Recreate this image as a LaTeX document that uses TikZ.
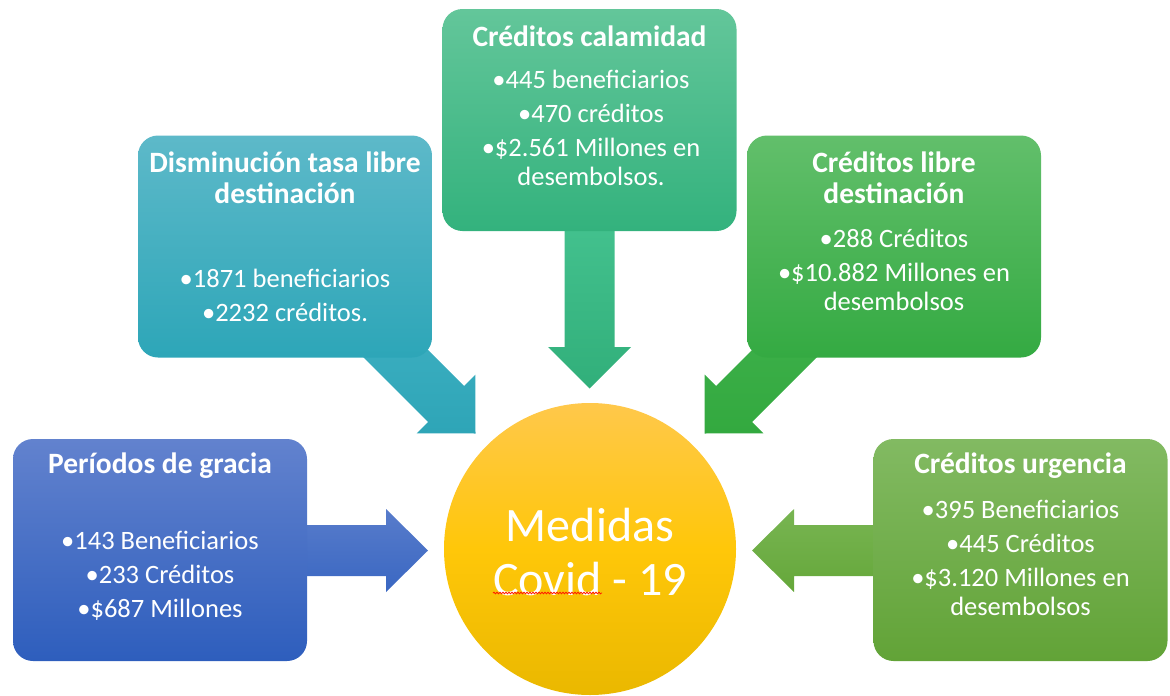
\documentclass[tikz,border=0pt]{standalone}
\usepackage{fontspec}
\setmainfont{Carlito}
\usetikzlibrary{decorations.pathmorphing}
\begin{document}
\begin{tikzpicture}[x=1pt,y=-1pt]
\tikzset{
  panel/.style={rounded corners=20pt, minimum width=294pt, minimum height=222pt, inner sep=0pt, draw=none},
  ttl/.style={text=white, font=\fontsize{29.5}{31}\selectfont\bfseries, align=center, inner sep=0pt},
  body/.style={text=white, font=\fontsize{26.5}{29}\selectfont, align=center, inner sep=0pt},
  hubtext/.style={text=white, font=\fontsize{48}{54}\selectfont, align=center, inner sep=0pt},
  squiggle/.style={draw=red!80!orange, line width=0.8pt, decorate, decoration={snake, amplitude=0.8pt, segment length=3pt}},
}
\useasboundingbox (0,0) rectangle (1170,696);

% ---- block arrows (drawn under the panels) ----
\path[top color={rgb,255:red,88;green,124;blue,203}, bottom color={rgb,255:red,58;green,103;blue,194}]
  (290,525) -- (386,525) -- (386,509) -- (428,550.5) -- (386,592) -- (386,576) -- (290,576) -- cycle;
\path[top color={rgb,255:red,120;green,181;blue,82}, bottom color={rgb,255:red,101;green,167;blue,58}]
  (890,525) -- (794,525) -- (794,509) -- (752,550.5) -- (794,592) -- (794,576) -- (890,576) -- cycle;
\path[top color={rgb,255:red,68;green,194;blue,143}, bottom color={rgb,255:red,49;green,175;blue,122}]
  (564.5,215) -- (564.5,347) -- (548,347) -- (589.5,388.5) -- (631,347) -- (614.5,347) -- (614.5,215) -- cycle;
\path[top color={rgb,255:red,61;green,175;blue,193}, bottom color={rgb,255:red,46;green,165;blue,183}]
  (398,320) -- (464,386) -- (475.3,374.7) -- (475.5,433.5) -- (416.7,433.3) -- (428,422) -- (362,356) -- cycle;
\path[top color={rgb,255:red,61;green,176;blue,74}, bottom color={rgb,255:red,51;green,169;blue,63}]
  (782,320) -- (716,386) -- (704.7,374.7) -- (704.5,433.5) -- (763.3,433.3) -- (752,422) -- (818,356) -- cycle;

% ---- panels ----
\node[panel, top color={rgb,255:red,98;green,130;blue,206}, bottom color={rgb,255:red,46;green,94;blue,189}] (bp) at (160,550) {};
\node[panel, top color={rgb,255:red,93;green,185;blue,201}, bottom color={rgb,255:red,45;green,166;blue,184}] (bd) at (285,246.5) {};
\node[panel, top color={rgb,255:red,99;green,198;blue,154}, bottom color={rgb,255:red,51;green,178;blue,125}] (bc) at (589.5,120) {};
\node[panel, top color={rgb,255:red,98;green,191;blue,107}, bottom color={rgb,255:red,52;green,170;blue,66}] (bl) at (894,246.5) {};
\node[panel, top color={rgb,255:red,130;green,186;blue,98}, bottom color={rgb,255:red,98;green,163;blue,55}] (bu) at (1020.5,550) {};

% ---- hub ----
\node[circle, minimum size=292pt, inner sep=0pt, top color={rgb,255:red,255;green,200;blue,75}, bottom color={rgb,255:red,234;green,184;blue,0}, middle color={rgb,255:red,255;green,199;blue,9}] (hub) at (590,549) {};
\node[hubtext] (hubt) at (590,552) {Medidas\\Covid - 19};
\coordinate (sqa) at (493,593);
\coordinate (sqb) at (602,593);
\path[squiggle] (sqa) -- (sqb);

% ---- texts ----
\node[ttl] (tp) at (160,466) {Períodos de gracia};
\node[body] (xp) at (160,576) {•143 Beneficiarios\\[5pt]•233 Créditos\\[5pt]•\$687 Millones};

\node[ttl] (td) at (285,177.5) {Disminución tasa libre\\destinación};
\node[body] (xd) at (285,295) {•1871 beneficiarios\\[5pt]•2232 créditos.};

\node[ttl] (tc) at (589.5,36) {Créditos calamidad};
\node[body] (xc) at (591,128) {•445 beneficiarios\\[5pt]•470 créditos\\[5pt]•\$2.561 Millones en\\desembolsos.};

\node[ttl] (tl) at (894,177.5) {Créditos libre\\destinación};
\node[body] (xl) at (894,270) {•288 Créditos\\[5pt]•\$10.882 Millones en\\desembolsos};

\node[ttl] (tu) at (1020.5,466) {Créditos urgencia};
\node[body] (xu) at (1020.5,558) {•395 Beneficiarios\\[5pt]•445 Créditos\\[5pt]•\$3.120 Millones en\\desembolsos};
\end{tikzpicture}
\end{document}
